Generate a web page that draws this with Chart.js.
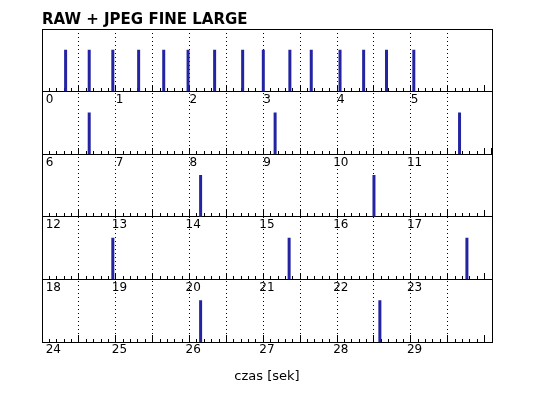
<!DOCTYPE html>
<html>
<head>
<meta charset="utf-8">
<script src="https://cdn.jsdelivr.net/npm/chart.js@4"></script>
<style>
    html, body { margin: 0; padding: 0; background: #fff; }
    #wrap { width: 538px; height: 398px; }
</style>
</head>
<body>
<div id="wrap"><canvas id="paski" width="538" height="398"></canvas></div>
<script>
/* ── Dane: momenty zdjęć (s), podział na paski po 6 s ── */
const chartTitle = 'RAW + JPEG FINE LARGE';
const axisTitle  = 'czas [sek]';
const rowLength  = 6;
const rowStarts  = [0, 6, 12, 18, 24];
const shotTimes  = [
    0.27, 0.59, 0.91, 1.26, 1.60, 1.93, 2.29, 2.67, 2.95, 3.31, 3.60, 3.99, 4.31, 4.62, 4.99,
    6.59, 9.11, 11.61,
    14.10, 16.45,
    18.91, 21.30, 23.71,
    26.10, 28.53
];
const shotLevel  = 1;
const yMax       = 1.5;
const tickStep   = 0.1;
const gridStep   = 0.5;

const BAR  = '#2424a2';
const INK  = '#000';
const NONE = 'rgba(0,0,0,0)';
const FONT = { family: 'DejaVu Sans', size: 12 };

function bliskie(a, b) { return Math.abs(a - b) < 1e-6; }
function wielokrotnosc(v, step) { return bliskie(v / step, Math.round(v / step)); }

const scales = {};

// osie Y ułożone w stos – ostatnia zdefiniowana trafia na górę
for (let k = rowStarts.length - 1; k >= 0; k--) {
    scales['y' + k] = {
        type: 'linear', axis: 'y', position: 'left', stack: 'rows',
        min: 0, max: yMax,
        ticks: { display: false },
        grid: { display: false, drawTicks: false },
        border: { display: true, color: INK }
    };
}
scales.yr = {
    type: 'linear', axis: 'y', position: 'right', min: 0, max: 1,
    ticks: { display: false },
    grid: { display: false, drawTicks: false },
    border: { color: INK }
};
scales.xt = {
    type: 'linear', axis: 'x', position: 'top', min: 0, max: 1,
    ticks: { display: false },
    grid: { display: false, drawTicks: false },
    border: { color: INK }
};

// kreski co 0.1 s (dłuższe co 0.5 s) + etykiety sekund, siatka kropkowana co 0.5 s
rowStarts.forEach((start, k) => {
    const last = k === rowStarts.length - 1;
    const end = start + rowLength;
    scales['x' + k] = {
        type: 'linear', axis: 'x',
        position: last ? 'bottom' : { ['y' + k]: 0 },
        min: start, max: end,
        ticks: {
            stepSize: tickStep,
            autoSkip: false, maxRotation: 0, minRotation: 0,
            align: 'inner', padding: 8, color: INK, font: FONT,
            callback: v => (wielokrotnosc(v, 1) && !bliskie(v, end)) ? String(Math.round(v)) : ''
        },
        grid: {
            drawOnChartArea: last,
            tickLength: -7, tickColor: INK, tickWidth: 1,
            // krótsze kreski: kreska przycięta wzorem przerywanym od osi w górę
            tickBorderDash: ctx => {
                const v = ctx.tick ? ctx.tick.value : start;
                return wielokrotnosc(v, gridStep) ? [] : [4, 20];
            },
            color: ctx => {
                const v = ctx.tick ? ctx.tick.value : start;
                return (wielokrotnosc(v, gridStep) && !bliskie(v, start) && !bliskie(v, end)) ? INK : NONE;
            }
        },
        border: { color: INK, dash: [1, 3] },
        title: last ? {
            display: true, text: axisTitle, color: INK,
            font: { family: 'DejaVu Sans', size: 13 },
            padding: { top: 3, bottom: 9 }
        } : { display: false }
    };
});

const datasets = rowStarts.map((start, k) => ({
    label: 'pasek ' + (k + 1),
    data: shotTimes
        .filter(t => t >= start && t < start + rowLength)
        .map(t => ({ x: t, y: shotLevel })),
    xAxisID: 'x' + k,
    yAxisID: 'y' + k,
    backgroundColor: BAR,
    borderWidth: 0,
    grouped: false,
    maxBarThickness: 3
}));

new Chart(document.getElementById('paski'), {
    type: 'bar',
    data: { datasets: datasets },
    options: {
        responsive: false,
        animation: false,
        events: [],
        layout: { padding: { left: 42, right: 46, top: 0, bottom: 5 } },
        plugins: {
            legend: { display: false },
            tooltip: { enabled: false },
            title: {
                display: true, text: chartTitle, align: 'start', color: INK,
                font: { family: 'DejaVu Sans', size: 15, weight: 'bold' },
                padding: { top: 11, bottom: 0 }
            }
        },
        scales: scales
    }
});
</script>
</body>
</html>
